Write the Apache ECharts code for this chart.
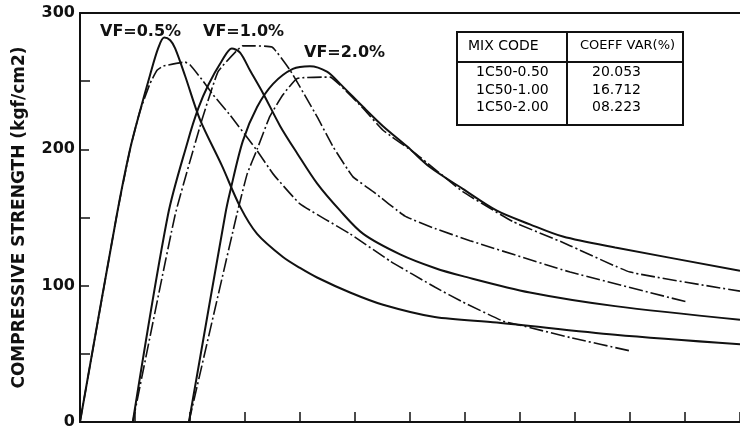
<!DOCTYPE html>
<html>
<head>
<meta charset="utf-8">
<script src="https://cdn.jsdelivr.net/npm/echarts@6/dist/echarts.min.js"></script>
<style>html,body{margin:0;padding:0;background:#fff;}#chart{width:740px;height:430px;}</style>
</head>
<body>
<div id="chart"></div>
<script>
// ---- data (x: strain-like units, y: compressive strength kgf/cm2) ----
const vf05Solid = [[0,0],[0.67,152],[0.91,200],[1.09,228],[1.27,254],[1.42,274],[1.53,282],[1.64,280],[1.73,274],[1.91,254],[2.18,222],[2.58,188],[2.91,158],[3.22,138],[3.69,121],[4.0,113],[4.31,106],[4.91,95],[5.51,86],[6.45,77],[7.58,73],[9.73,64],[12,57]];
const vf05Chain = [[0,0],[0.67,152],[0.91,200],[1.09,228],[1.27,248],[1.4,258],[1.51,261],[1.91,264],[2.0,262],[2.22,251],[2.42,240],[2.73,225],[3.22,199],[3.51,182],[4.0,160],[4.91,138],[5.64,118],[6.45,99],[6.96,88],[7.69,74],[8.0,71],[8.91,62],[10.02,52]];
const vf10Solid = [[0.96,0],[1.6,152],[1.96,206],[2.15,230],[2.33,247],[2.58,265],[2.76,274],[2.91,271],[3.09,258],[3.33,241],[3.64,217],[3.95,197],[4.31,175],[4.73,155],[5.15,138],[5.82,123],[6.45,113],[6.96,107],[8.18,95],[9.73,85],[12,75]];
const vf10Chain = [[0.96,0],[1.73,152],[2.22,222],[2.51,257],[2.84,272],[2.96,276],[3.49,275],[3.82,258],[4.31,224],[4.6,202],[4.96,180],[5.33,169],[5.91,151],[6.45,142],[7.09,133],[8.91,110],[11.04,88]];
const vf20Solid = [[1.98,0],[2.64,152],[2.73,169],[2.96,206],[3.22,231],[3.51,248],[3.87,259],[4.18,261],[4.49,257],[4.73,248],[5.15,231],[5.51,217],[5.95,202],[6.36,187],[6.96,171],[7.58,155],[8.18,145],[8.78,136],[9.73,128],[12,111]];
const vf20Chain = [[1.98,0],[2.85,152],[3.04,182],[3.22,200],[3.45,224],[3.69,240],[3.95,252],[4.55,253],[4.73,247],[5.15,230],[5.51,214],[6.13,196],[6.96,169],[7.87,147],[8.82,131],[10.0,110],[12,96]];

const vfLabels = ['VF=0.5%', 'VF=1.0%', 'VF=2.0%'];
const tableHeader = ['MIX CODE', 'COEFF VAR(%)'];
const mixCodes = ['1C50-0.50', '1C50-1.00', '1C50-2.00'];
const coeffVars = ['20.053', '16.712', '08.223'];
const yTickLabels = [0, 100, 200, 300];
const yAxisTitle = 'COMPRESSIVE STRENGTH (kgf/cm2)';

// ---- build ----
const chart = echarts.init(document.getElementById('chart'), null, {renderer: 'canvas'});
const ink = '#111';
function solid(name, data) {
  return {name, type: 'line', data, showSymbol: false, smooth: 0.3,
    lineStyle: {color: ink, width: 2}, z: 3, silent: true};
}
function chain(name, data) {
  return {name, type: 'line', data, showSymbol: false, smooth: 0.12,
    lineStyle: {color: ink, width: 1.6, type: [14, 3, 2, 3]}, z: 2, silent: true};
}

const rowYs = [72, 90, 107];
const graphics = [
  {type: 'text', x: 100, y: 32, style: {text: vfLabels[0], fontFamily: 'DejaVu Sans', fontWeight: 'bold', fontSize: 16, fill: ink, align: 'left', verticalAlign: 'middle'}},
  {type: 'text', x: 203, y: 32, style: {text: vfLabels[1], fontFamily: 'DejaVu Sans', fontWeight: 'bold', fontSize: 16, fill: ink, align: 'left', verticalAlign: 'middle'}},
  {type: 'text', x: 304, y: 53, style: {text: vfLabels[2], fontFamily: 'DejaVu Sans', fontWeight: 'bold', fontSize: 16, fill: ink, align: 'left', verticalAlign: 'middle'}},
  {type: 'rect', shape: {x: 457, y: 32, width: 226, height: 93}, style: {fill: '#fff', stroke: ink, lineWidth: 2}, z: 10},
  {type: 'line', shape: {x1: 457, y1: 62, x2: 683, y2: 62}, style: {stroke: ink, lineWidth: 2}, z: 11},
  {type: 'line', shape: {x1: 567, y1: 32, x2: 567, y2: 125}, style: {stroke: ink, lineWidth: 2}, z: 11},
  {type: 'text', x: 468, y: 46, z: 12, style: {text: tableHeader[0], fontFamily: 'DejaVu Sans', fontSize: 14, fill: '#000', align: 'left', verticalAlign: 'middle'}},
  {type: 'text', x: 580, y: 46, z: 12, style: {text: tableHeader[1], fontFamily: 'DejaVu Sans', fontSize: 13, fill: '#000', align: 'left', verticalAlign: 'middle'}}
];
mixCodes.forEach((c, i) => {
  graphics.push({type: 'text', x: 476, y: rowYs[i], z: 12, style: {text: c, fontFamily: 'DejaVu Sans', fontSize: 14, fill: '#000', align: 'left', verticalAlign: 'middle'}});
  graphics.push({type: 'text', x: 592, y: rowYs[i], z: 12, style: {text: coeffVars[i], fontFamily: 'DejaVu Sans', fontSize: 14, fill: '#000', align: 'left', verticalAlign: 'middle'}});
});

const option = {
  animation: false,
  backgroundColor: '#fff',
  grid: {left: 80, right: 0, top: 13, bottom: 8, containLabel: false},
  xAxis: [
    {type: 'value', min: 0, max: 12, interval: 1, position: 'bottom',
      axisLine: {show: true, lineStyle: {color: ink, width: 2}},
      axisTick: {show: true, inside: true, length: 10, lineStyle: {color: ink, width: 1.5}},
      axisLabel: {show: false}, splitLine: {show: false}},
    {type: 'value', min: 0, max: 12, interval: 1, position: 'top',
      axisLine: {show: true, lineStyle: {color: ink, width: 2}},
      axisTick: {show: false}, axisLabel: {show: false}, splitLine: {show: false}}
  ],
  yAxis: {
    type: 'value', min: 0, max: 300, interval: 100,
    name: yAxisTitle, nameLocation: 'middle', nameGap: 52,
    nameTextStyle: {fontFamily: 'DejaVu Sans', fontWeight: 'bold', fontSize: 17, color: ink},
    axisLine: {show: true, lineStyle: {color: ink, width: 2}},
    axisTick: {show: true, inside: true, length: 9, lineStyle: {color: ink, width: 1.5}},
    minorTick: {show: true, splitNumber: 2, length: 10, lineStyle: {color: ink, width: 1.5}},
    axisLabel: {margin: 5, fontFamily: 'DejaVu Sans', fontWeight: 'bold', fontSize: 16, color: ink,
      formatter: v => yTickLabels.includes(v) ? String(v) : ''},
    splitLine: {show: false}, minorSplitLine: {show: false}
  },
  series: [
    solid('VF=0.5% solid', vf05Solid), chain('VF=0.5% chain', vf05Chain),
    solid('VF=1.0% solid', vf10Solid), chain('VF=1.0% chain', vf10Chain),
    solid('VF=2.0% solid', vf20Solid), chain('VF=2.0% chain', vf20Chain)
  ],
  graphic: graphics
};
chart.setOption(option);
</script>
</body>
</html>
